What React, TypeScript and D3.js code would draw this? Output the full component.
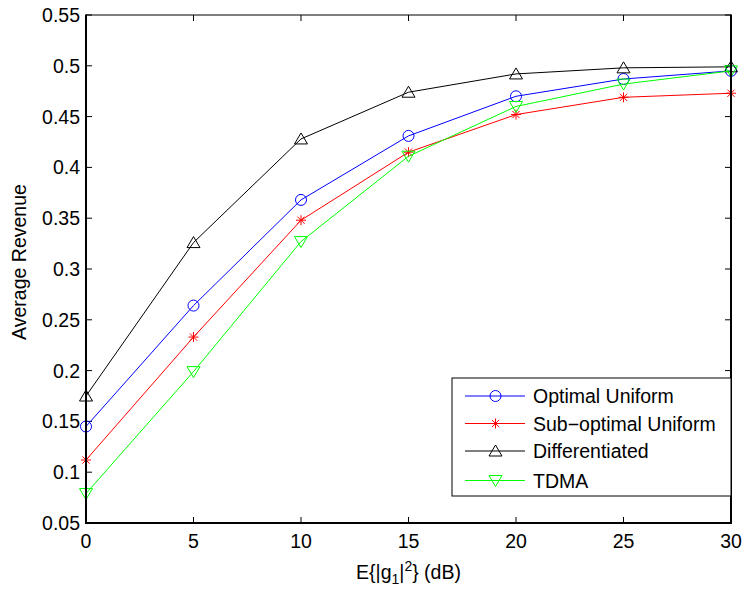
import React from "react";
import * as d3 from "d3";

const xValues = [0, 5, 10, 15, 20, 25, 30];
const optimalUniform = [0.145, 0.264, 0.368, 0.431, 0.47, 0.487, 0.495];
const subOptimalUniform = [0.112, 0.233, 0.348, 0.415, 0.452, 0.469, 0.473];
const differentiated = [0.175, 0.326, 0.428, 0.474, 0.492, 0.498, 0.499];
const tdma = [0.079, 0.199, 0.327, 0.411, 0.46, 0.482, 0.495];
const xTicks = [0, 5, 10, 15, 20, 25, 30];
const yTicks = [0.05, 0.1, 0.15, 0.2, 0.25, 0.3, 0.35, 0.4, 0.45, 0.5, 0.55];
const seriesNames = ["Optimal Uniform", "Sub\u2212optimal Uniform", "Differentiated", "TDMA"];

const W = 746, H = 591;
const L = 86, R = 731, T = 15, B = 523;
const FONT = "'Liberation Sans', Arial, Helvetica, sans-serif";
const FS = 19.5;

type MarkerKind = "circle" | "star" | "up" | "down";

function Marker({ kind, x, y, color }: { kind: MarkerKind; x: number; y: number; color: string }) {
  if (kind === "circle") return <circle cx={x} cy={y} r={5.5} fill="none" stroke={color} strokeWidth={1} />;
  if (kind === "star") {
    const s = 5;
    const d = s * 0.72;
    return (
      <g stroke={color} strokeWidth={1}>
        <line x1={x - s} y1={y} x2={x + s} y2={y} />
        <line x1={x} y1={y - s} x2={x} y2={y + s} />
        <line x1={x - d} y1={y - d} x2={x + d} y2={y + d} />
        <line x1={x - d} y1={y + d} x2={x + d} y2={y - d} />
      </g>
    );
  }
  if (kind === "up") {
    return <polygon points={`${x},${y - 6} ${x + 6.5},${y + 5} ${x - 6.5},${y + 5}`} fill="none" stroke={color} strokeWidth={1} />;
  }
  return <polygon points={`${x},${y + 6} ${x + 6.5},${y - 5} ${x - 6.5},${y - 5}`} fill="none" stroke={color} strokeWidth={1} />;
}

export default function App() {
  const x = d3.scaleLinear().domain([0, 30]).range([L, R]);
  const y = d3.scaleLinear().domain([0.05, 0.55]).range([B, T]);

  const series: { name: string; values: number[]; color: string; marker: MarkerKind }[] = [
    { name: seriesNames[0], values: optimalUniform, color: "#0000ff", marker: "circle" },
    { name: seriesNames[1], values: subOptimalUniform, color: "#ff0000", marker: "star" },
    { name: seriesNames[2], values: differentiated, color: "#000000", marker: "up" },
    { name: seriesNames[3], values: tdma, color: "#00ff00", marker: "down" },
  ];
  const drawOrder = [0, 1, 2, 3];

  const line = d3.line<number>().x((_, i) => x(xValues[i])).y((v) => y(v));

  const legX0 = 452, legY0 = 378, legX1 = 731, legY1 = 496;
  const legRows = [396, 423.5, 451, 480.5];

  return (
    <svg width={W} height={H} style={{ position: "absolute", left: 0, top: 0, background: "#fff" }} fontFamily={FONT}>
      <rect x={0} y={0} width={W} height={H} fill="#fff" />
      {/* ticks */}
      {xTicks.map((t) => (
        <g key={"xt" + t} stroke="#000" strokeWidth={1}>
          <line x1={x(t)} y1={B} x2={x(t)} y2={B - 6} />
          <line x1={x(t)} y1={T} x2={x(t)} y2={T + 6} />
        </g>
      ))}
      {yTicks.map((t) => (
        <g key={"yt" + t} stroke="#000" strokeWidth={1}>
          <line x1={L} y1={y(t)} x2={L + 6} y2={y(t)} />
          <line x1={R} y1={y(t)} x2={R - 6} y2={y(t)} />
        </g>
      ))}
      {/* series */}
      {drawOrder.map((i) => {
        const s = series[i];
        return (
          <g key={s.name}>
            <path d={line(s.values) || ""} fill="none" stroke={s.color} strokeWidth={1} />
            {s.values.map((v, j) => (
              <Marker key={j} kind={s.marker} x={x(xValues[j])} y={y(v)} color={s.color} />
            ))}
          </g>
        );
      })}
      {/* frame */}
      <line x1={L} y1={T} x2={R} y2={T} stroke="#000" strokeWidth={1} />
      <line x1={L} y1={T - 0.5} x2={L} y2={B + 1} stroke="#000" strokeWidth={2} />
      <line x1={R} y1={T - 0.5} x2={R} y2={B + 1} stroke="#000" strokeWidth={2} />
      <line x1={L - 1} y1={B} x2={R + 1} y2={B} stroke="#000" strokeWidth={2} />
      {/* tick labels */}
      {xTicks.map((t) => (
        <text key={"xl" + t} x={x(t)} y={548} textAnchor="middle" fontSize={FS} fill="#000">
          {t}
        </text>
      ))}
      {yTicks.map((t) => (
        <text key={"yl" + t} x={80} y={y(t) + 7} textAnchor="end" fontSize={FS} fill="#000">
          {String(t)}
        </text>
      ))}
      {/* axis labels */}
      <text x={(L + R) / 2} y={579} textAnchor="middle" fontSize={FS} fill="#000">
        E{"{"}|g<tspan fontSize={FS * 0.72} dy={5}>1</tspan>
        <tspan dy={-5}>|</tspan>
        <tspan fontSize={FS * 0.72} dy={-8}>2</tspan>
        <tspan dy={8}>{"} (dB)"}</tspan>
      </text>
      <text transform={`translate(26,${(T + B) / 2 - 7}) rotate(-90)`} textAnchor="middle" fontSize={FS} fill="#000">
        Average Revenue
      </text>
      {/* legend */}
      <rect x={legX0} y={legY0} width={legX1 - legX0} height={legY1 - legY0} fill="#fff" stroke="#000" strokeWidth={1} />
      {series.map((s, i) => (
        <g key={"lg" + i}>
          <line x1={465} y1={legRows[i]} x2={525} y2={legRows[i]} stroke={s.color} strokeWidth={1} />
          <Marker kind={s.marker} x={495.5} y={legRows[i]} color={s.color} />
          <text x={533} y={legRows[i] + 7} fontSize={FS} fill="#000">
            {s.name}
          </text>
        </g>
      ))}
    </svg>
  );
}
